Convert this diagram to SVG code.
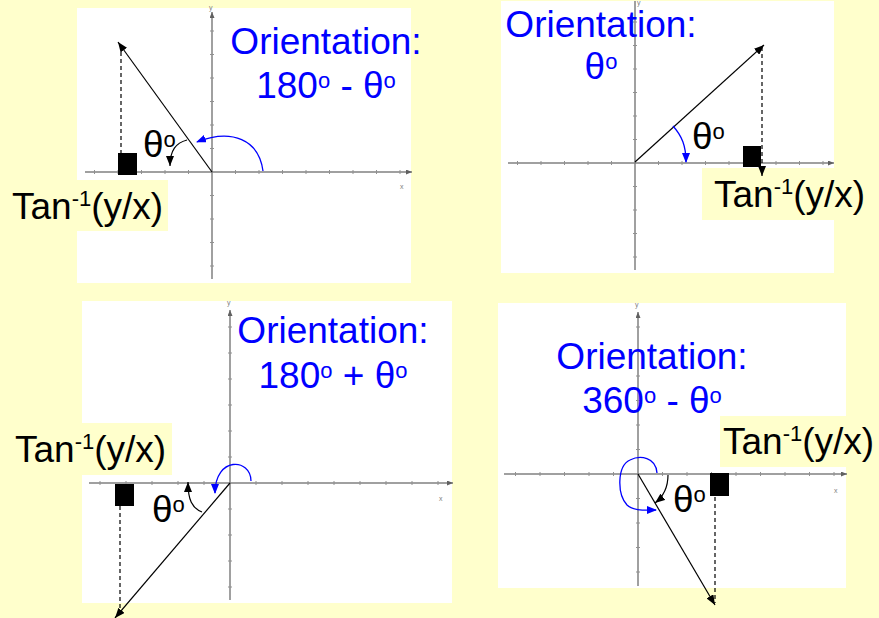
<svg xmlns="http://www.w3.org/2000/svg" width="879" height="618" viewBox="0 0 879 618">
<style>
text{font-family:"Liberation Sans",Arial,sans-serif;}
.big{font-size:37px;}
.blue{fill:#0000FF;}
.blk{fill:#000;}
.sup{font-size:22px;}
.ax{stroke:#808080;stroke-width:1.5;fill:none;}
.tk{stroke:#909090;stroke-width:1;fill:none;}
.lbl{font-size:7px;fill:#808080;}
.panel{fill:#FFFFFF;}
.tanbg{fill:#FFFFCC;}
.vec{stroke:#000;stroke-width:1.2;fill:none;}
.dash{stroke:#000;stroke-width:1.2;stroke-dasharray:4 3;fill:none;}
.barc{stroke:#000;stroke-width:1.2;fill:none;}
.uarc{stroke:#0000FF;stroke-width:1.3;fill:none;}
</style>
<defs>
<marker id="ah" markerUnits="userSpaceOnUse" markerWidth="10" markerHeight="8" refX="10" refY="4" orient="auto"><path d="M0,0 L10,4 L0,8 z" fill="#000"/></marker>
<marker id="ahb" markerUnits="userSpaceOnUse" markerWidth="10" markerHeight="8" refX="9" refY="4" orient="auto"><path d="M0,0 L10,4 L0,8 z" fill="#0000FF"/></marker>
<marker id="axh" markerUnits="userSpaceOnUse" markerWidth="6" markerHeight="5" refX="6" refY="2.5" orient="auto"><path d="M0,0 L6,2.5 L0,5 z" fill="#606060"/></marker>
</defs>
<rect width="879" height="618" fill="#FFFFCC"/>

<g id="panel1">
<rect class="panel" x="77" y="8" width="334" height="275"/>
<path class="ax" d="M85,172 H412" marker-end="url(#axh)"/>
<path class="ax" d="M212,279 V12" marker-end="url(#axh)"/>
<path class="tk" d="M210,148.5h4M210,125h4M210,101.5h4M210,78h4M210,54.5h4M210,31h4M210,195.5h4M210,219h4M210,242.5h4M210,266h4M188.5,170v4M165,170v4M141.5,170v4M118,170v4M94.5,170v4M235.5,170v4M259,170v4M282.5,170v4M306,170v4M329.5,170v4M353,170v4M376.5,170v4M400,170v4"/>
<text class="lbl" x="209" y="10">y</text>
<text class="lbl" x="400" y="189">x</text>
<rect x="118" y="153" width="19" height="22" fill="#000"/>
<text class="big blue" x="326" y="54" text-anchor="middle">Orientation:</text>
<text class="big blue" x="326" y="98" text-anchor="middle">180<tspan class="sup" dy="-10">o</tspan><tspan dy="10"> - θ</tspan><tspan class="sup" dy="-10">o</tspan></text>
<text class="big blk" x="143" y="157">θ<tspan class="sup" dy="-10">o</tspan></text>
<rect class="tanbg" x="77" y="180" width="91" height="51"/>
<text class="big blk" x="12" y="219">Tan<tspan class="sup" dy="-13">-1</tspan><tspan dy="13">(y/x)</tspan></text>
</g>

<g id="panel2">
<rect class="panel" x="501" y="1" width="333" height="272"/>
<path class="ax" d="M508,163 H834" marker-end="url(#axh)"/>
<path class="ax" d="M635,270 V1"/>
<path class="tk" d="M633,139.5h4M633,116h4M633,92.5h4M633,69h4M633,45.5h4M633,22h4M633,186.5h4M633,210h4M633,233.5h4M633,257h4M611.5,161v4M588,161v4M564.5,161v4M541,161v4M517.5,161v4M658.5,161v4M682,161v4M705.5,161v4M729,161v4M752.5,161v4M776,161v4M799.5,161v4M823,161v4"/>
<text class="lbl" x="637" y="5">y</text>
<rect x="743" y="146" width="18" height="21" fill="#000"/>
<text class="big blue" x="601" y="37" text-anchor="middle">Orientation:</text>
<text class="big blue" x="601" y="79" text-anchor="middle">θ<tspan class="sup" dy="-10">o</tspan></text>
<text class="big blk" x="692" y="149">θ<tspan class="sup" dy="-10">o</tspan></text>
<rect class="tanbg" x="702" y="168" width="132" height="52"/>
<text class="big blk" x="714" y="207">Tan<tspan class="sup" dy="-13">-1</tspan><tspan dy="13">(y/x)</tspan></text>
</g>

<g id="panel3">
<rect class="panel" x="82" y="301" width="370" height="302"/>
<path class="ax" d="M89,483 H453" marker-end="url(#axh)"/>
<path class="ax" d="M230,600 V310" marker-end="url(#axh)"/>
<path class="tk" d="M228,457h4M228,431h4M228,405h4M228,379h4M228,353h4M228,327h4M228,509h4M228,535h4M228,561h4M228,587h4M204,481v4M178,481v4M152,481v4M126,481v4M100,481v4M256,481v4M282,481v4M308,481v4M334,481v4M360,481v4M386,481v4M412,481v4M438,481v4"/>
<text class="lbl" x="227" y="305">y</text>
<text class="lbl" x="439" y="501">x</text>
<rect x="115" y="484" width="19" height="22" fill="#000"/>
<text class="big blue" x="333" y="343" text-anchor="middle">Orientation:</text>
<text class="big blue" x="333" y="388" text-anchor="middle">180<tspan class="sup" dy="-10">o</tspan><tspan dy="10"> + θ</tspan><tspan class="sup" dy="-10">o</tspan></text>
<text class="big blk" x="152" y="522">θ<tspan class="sup" dy="-10">o</tspan></text>
<rect class="tanbg" x="82" y="423" width="90" height="52"/>
<text class="big blk" x="15" y="462">Tan<tspan class="sup" dy="-13">-1</tspan><tspan dy="13">(y/x)</tspan></text>
</g>

<g id="panel4">
<rect class="panel" x="498" y="303" width="348" height="285"/>
<path class="ax" d="M504,474 H847" marker-end="url(#axh)"/>
<path class="ax" d="M638,586 V312" marker-end="url(#axh)"/>
<path class="tk" d="M636,449.5h4M636,425h4M636,400.5h4M636,376h4M636,351.5h4M636,327h4M636,498.5h4M636,523h4M636,547.5h4M636,572h4M613.5,472v4M589,472v4M564.5,472v4M540,472v4M515.5,472v4M662.5,472v4M687,472v4M711.5,472v4M736,472v4M760.5,472v4M785,472v4M809.5,472v4M834,472v4"/>
<text class="lbl" x="635" y="307">y</text>
<text class="lbl" x="834" y="493">x</text>
<rect x="710" y="473" width="19" height="23" fill="#000"/>
<text class="big blue" x="652" y="369" text-anchor="middle">Orientation:</text>
<text class="big blue" x="652" y="413" text-anchor="middle">360<tspan class="sup" dy="-10">o</tspan><tspan dy="10"> - θ</tspan><tspan class="sup" dy="-10">o</tspan></text>
<text class="big blk" x="673" y="512">θ<tspan class="sup" dy="-10">o</tspan></text>
<rect class="tanbg" x="720" y="416" width="126" height="51"/>
<text class="big blk" x="723" y="454">Tan<tspan class="sup" dy="-13">-1</tspan><tspan dy="13">(y/x)</tspan></text>
</g>

<g id="connectors">
<path class="vec" d="M212,172 L118,42" marker-end="url(#ah)"/>
<path class="dash" d="M121,45 V153"/>
<path class="barc" d="M187,140 C176,143 170,150 170,166" marker-end="url(#ah)"/>
<path class="uarc" d="M263,171 C259,140 232,128 197,142" marker-end="url(#ahb)"/>

<path class="vec" d="M635,162 L764,45" marker-end="url(#ah)"/>
<path class="dash" d="M762,47 V176" marker-end="url(#ah)"/>
<path class="uarc" d="M673,126 C682,136 686,146 686,162" marker-end="url(#ahb)"/>

<path class="vec" d="M230,483 L115,618" marker-end="url(#ah)"/>
<path class="dash" d="M120,506 V614"/>
<path class="barc" d="M202,512 C192,508 188,500 188,482" marker-end="url(#ah)"/>
<path class="uarc" d="M251,481 C251,458 215,456 215,493" marker-end="url(#ahb)"/>

<path class="vec" d="M638,474 L715,605" marker-end="url(#ah)"/>
<path class="dash" d="M715,497 V603"/>
<path class="barc" d="M668,475 C668,488 664,496 655,503" marker-end="url(#ah)"/>
<path class="uarc" d="M657,473 C656,457 640,455 630,460 C617,466 617,494 627,505 C633,511 645,510 656,510" marker-end="url(#ahb)"/>
</g>
</svg>
